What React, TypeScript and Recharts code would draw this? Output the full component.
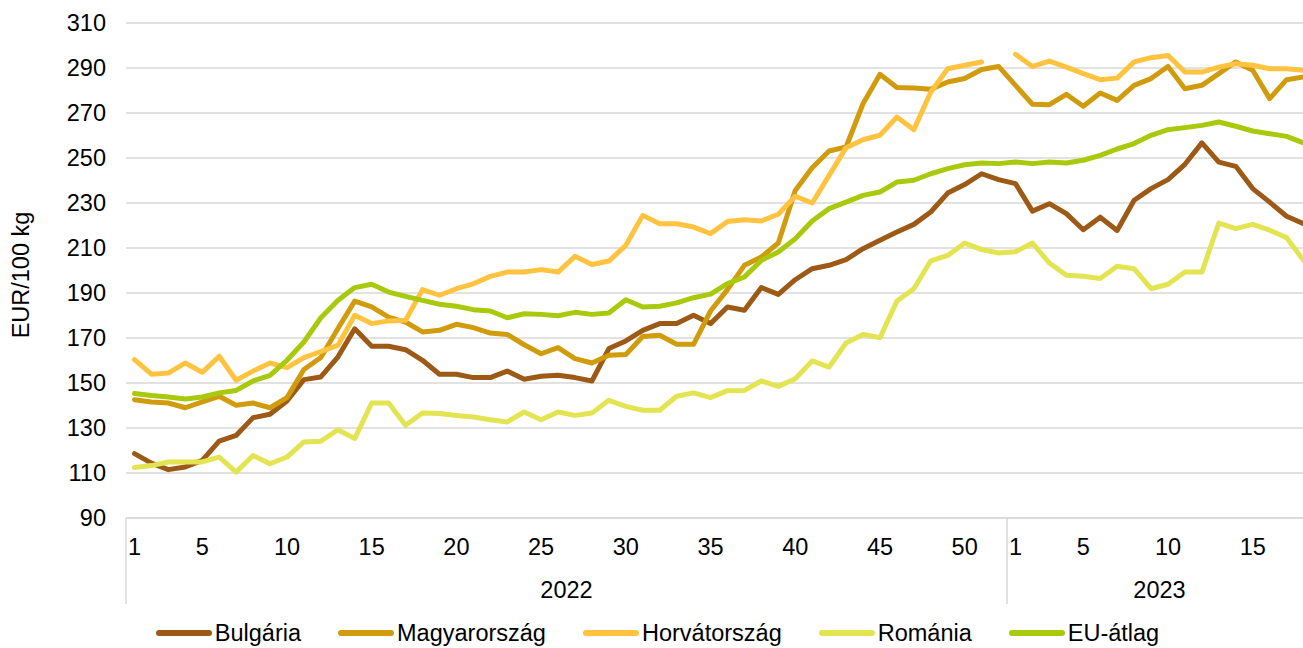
import React from "react";
import { LineChart, Line, XAxis, YAxis, CartesianGrid } from "recharts";

// weekly categories, 2022 full year + first 18 weeks of 2023
const WEEKS_2022 = Array.from({ length: 52 }, (_, i) => i + 1);
const WEEKS_2023 = Array.from({ length: 18 }, (_, i) => i + 1);
const YEARS = [
  { label: "2022", weeks: WEEKS_2022 },
  { label: "2023", weeks: WEEKS_2023 },
];

const Y_TICKS = [90, 110, 130, 150, 170, 190, 210, 230, 250, 270, 290, 310];

const BULGARIA = [
  118.6, 114.4, 111.5, 112.7, 115.6, 124.2, 126.7, 134.6, 136.1, 142, 151.5, 152.7,
  161.5, 174.1, 166.3, 166.3, 164.8, 160.1, 153.9, 153.9, 152.4, 152.4, 155.3, 151.7,
  153, 153.4, 152.4, 150.9, 165.3, 168.7, 173.4, 176.4, 176.4, 180.1, 176.4, 183.8,
  182.3, 192.4, 189.4, 195.9, 200.8, 202.3, 204.8, 209.7, 213.4, 217.1, 220.5, 226,
  234.4, 238.2, 243, 240.4,
  238.6, 226.4, 229.7, 225.3, 218.1, 223.7, 217.8, 231.2, 236.4, 240.4, 247.2, 256.7,
  248.2, 246.3, 236.4, 230.4, 224.1, 220.8,
];

const MAGYARORSZAG = [
  142.6, 141.6, 141.1, 139, 141.6, 144.1, 140.1, 141.1, 139, 143.5, 156, 161.3,
  174.1, 186.4, 183.8, 179.3, 177.1, 172.7, 173.4, 176.1, 174.6, 172.2, 171.6, 167,
  163, 165.7, 160.8, 158.9, 162.3, 162.7, 170.7, 171.2, 167.2, 167.2, 182, 191.5,
  202.3, 206, 212.2, 235.6, 245.7, 253.1, 254.9, 274.1, 287.2, 281.3, 281.1, 280.6,
  283.8, 285.3, 289.3, 290.7,
  282.3, 273.9, 273.7, 278.3, 273, 278.9, 275.6, 282.3, 285.3, 290.7, 280.8, 282.3,
  287.5, 292.7, 289, 276.4, 284.8, 286,
];

const HORVATORSZAG = [
  160.4, 153.9, 154.4, 158.9, 154.7, 161.9, 151.2, 155.3, 158.9, 156.8, 161.3, 164,
  166.7, 180.1, 176.4, 177.6, 177.9, 191.5, 189, 191.9, 194.1, 197.4, 199.3, 199.3,
  200.4, 199.3, 206.3, 202.7, 204.2, 211.2, 224.5, 220.8, 220.8, 219.3, 216.4, 221.8,
  222.6, 222, 225, 233, 230, 242.3, 254.6, 258.1, 260.1, 268.2, 262.6, 279.3,
  289.7, 291.2, 292.7, null,
  296.1, 290.7, 293.1, 290.4, 287.5, 284.8, 285.5, 292.7, 294.6, 295.6, 288.2, 288.2,
  290.4, 291.9, 291.2, 289.7, 289.7, 289,
];

const ROMANIA = [
  112.4, 113.3, 114.9, 114.9, 114.9, 117.1, 110.4, 117.8, 114.1, 117.1, 123.8, 124.1,
  129.2, 125.3, 141.1, 141.1, 131.2, 136.7, 136.4, 135.6, 134.9, 133.7, 132.7, 137.1,
  133.7, 137.1, 135.6, 136.7, 142.3, 139.6, 137.9, 137.9, 144.1, 145.6, 143.5, 146.6,
  146.7, 150.9, 148.5, 151.9, 159.8, 157.1, 167.8, 171.6, 170.1, 186.4, 191.9, 204.3,
  206.7, 212.2, 209.3, 207.8,
  208.3, 212.2, 203.3, 197.9, 197.4, 196.4, 201.9, 200.8, 191.9, 193.9, 199.3, 199.3,
  221.1, 218.6, 220.5, 217.9, 214.6, 204.5,
];

const EU_ATLAG = [
  145.3, 144.4, 143.8, 142.9, 143.8, 145.6, 146.7, 150.9, 153.4, 160.1, 168.2, 179,
  186.7, 192.4, 193.9, 190.4, 188.5, 186.7, 185, 184.1, 182.6, 182, 179, 180.8,
  180.5, 179.9, 181.4, 180.5, 181.1, 187, 183.8, 184.1, 185.6, 187.9, 189.5, 194.2,
  197.1, 204.5, 208.2, 214.1, 222, 227.5, 230.4, 233.4, 234.9, 239.3, 240.1, 243,
  245.3, 247, 247.8, 247.5,
  248.2, 247.5, 248.2, 247.8, 249, 251.2, 254, 256.4, 260.1, 262.6, 263.5, 264.5,
  266, 264.1, 262, 260.8, 259.6, 256.7,
];

const SERIES = [
  { key: "bg", name: "Bulgária", color: "#9C5A16", values: BULGARIA },
  { key: "hu", name: "Magyarország", color: "#D09B0C", values: MAGYARORSZAG },
  { key: "hr", name: "Horvátország", color: "#FFC340", values: HORVATORSZAG },
  { key: "ro", name: "Románia", color: "#E3E452", values: ROMANIA },
  { key: "eu", name: "EU-átlag", color: "#A8C90C", values: EU_ATLAG },
];

// flatten categories into rows
const rows: any[] = [];
YEARS.forEach((yr) => {
  yr.weeks.forEach((w, wi) => {
    rows.push({ idx: rows.length, week: w, year: yr.label, first: wi === 0, groupLen: yr.weeks.length });
  });
});
const data = rows.map((r) => {
  const row: any = { ...r };
  SERIES.forEach((s) => (row[s.key] = s.values[r.idx]));
  return row;
});

const FONT = '"Liberation Sans", Arial, sans-serif';
const FS = 23.5;
const CHART_W = 1312;
const CHART_H = 648;
const Y_AXIS_W = 126;
const PLOT_TOP = 23;
const PLOT_BOTTOM = 518;
const BAND = (CHART_W - Y_AXIS_W) / data.length;
const GRID = "#d9d9d9";

function WeekTick(props: any) {
  const { x, payload } = props;
  const row = data[payload.value];
  if (!row) return null;
  const showNum = row.week === 1 || row.week % 5 === 0;
  return (
    <g>
      {showNum && (
        <text x={x} y={555} textAnchor="middle" fontSize={FS} fill="#000" fontFamily={FONT}>
          {row.week}
        </text>
      )}
      {row.first && (
        <line x1={x - BAND / 2} x2={x - BAND / 2} y1={PLOT_BOTTOM} y2={604} stroke={GRID} strokeWidth={1.5} />
      )}
      {row.first && (
        <text
          x={x + ((row.groupLen - 1) / 2) * BAND}
          y={598}
          textAnchor="middle"
          fontSize={FS}
          fill="#000"
          fontFamily={FONT}
        >
          {row.year}
        </text>
      )}
    </g>
  );
}

function YLabel() {
  return (
    <text
      x={28.5}
      y={275}
      transform="rotate(-90, 28.5, 275)"
      textAnchor="middle"
      fontSize={FS}
      fill="#000"
      fontFamily={FONT}
    >
      EUR/100 kg
    </text>
  );
}

export default function App() {
  return (
    <div
      style={{
        position: "fixed",
        left: 0,
        top: 0,
        width: 1303,
        height: 648,
        overflow: "hidden",
        background: "#fff",
        fontFamily: FONT,
      }}
    >
      <LineChart
        width={CHART_W}
        height={CHART_H}
        data={data}
        margin={{ top: PLOT_TOP, right: 0, bottom: 0, left: 0 }}
      >
        <CartesianGrid vertical={false} stroke={GRID} strokeWidth={1.5} />
        <XAxis
          dataKey="idx"
          type="category"
          height={CHART_H - PLOT_BOTTOM}
          interval={0}
          padding={{ left: BAND / 2, right: BAND / 2 }}
          tickLine={false}
          axisLine={{ stroke: GRID, strokeWidth: 1.5 }}
          tick={(p: any) => <WeekTick {...p} />}
        />
        <YAxis
          width={Y_AXIS_W}
          domain={[90, 310]}
          ticks={Y_TICKS}
          interval={0}
          axisLine={false}
          tickLine={false}
          tickMargin={14}
          tick={{ fontSize: FS, fill: "#000", fontFamily: FONT }}
          label={{ content: () => <YLabel /> }}
        />
        {SERIES.map((s) => (
          <Line
            key={s.key}
            type="linear"
            dataKey={s.key}
            name={s.name}
            stroke={s.color}
            strokeWidth={5}
            strokeLinejoin="round"
            strokeLinecap="round"
            dot={false}
            activeDot={false}
            connectNulls={false}
            isAnimationActive={false}
          />
        ))}
      </LineChart>

      {/* legend */}
      <div
        style={{
          position: "absolute",
          left: 0,
          top: 620,
          width: 1315,
          display: "flex",
          justifyContent: "center",
          alignItems: "center",
          gap: 37,
          fontSize: FS,
          lineHeight: "26px",
          color: "#000",
          whiteSpace: "nowrap",
        }}
      >
        {SERIES.map((s) => (
          <div key={s.key} style={{ display: "flex", alignItems: "center", gap: 3 }}>
            <span
              style={{
                display: "inline-block",
                width: 56,
                height: 6,
                borderRadius: 3,
                background: s.color,
              }}
            />
            <span>{s.name}</span>
          </div>
        ))}
      </div>
    </div>
  );
}
